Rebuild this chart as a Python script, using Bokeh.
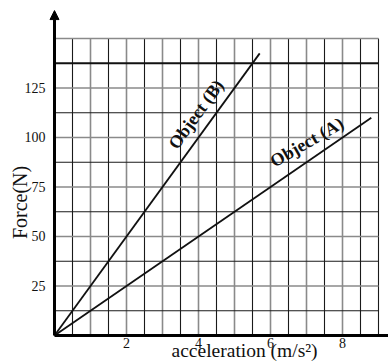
from bokeh.plotting import figure
from bokeh.models import Range1d, Arrow, NormalHead
from bokeh.core.properties import value
from bokeh.embed import file_html
from bokeh.resources import INLINE

# Force against acceleration for two objects (straight lines through the origin)
accel_a = [0, 8.8]
force_a = [0, 110]
accel_b = [0, 5.7]
force_b = [0, 142.5]

# axis ticks and their labels
x_ticks = [2, 4, 6, 8]
x_tick_labels = ["2", "4", "6", "8"]
y_ticks = [25, 50, 75, 100, 125]
y_tick_labels = ["25", "50", "75", "100", "125"]

# graph-paper rulings: heavier grey lines on whole units / multiples of 25 N,
# thin dark lines in between
grid_x_grey = [1, 2, 3, 4, 5, 6, 7, 8]
grid_x_dark = [0.5, 1.5, 2.5, 3.5, 4.5, 5.5, 6.5, 7.5, 8.5, 9]
grid_y_grey = [25, 50, 75, 100, 125, 150]
grid_y_dark = [12.5, 37.5, 62.5, 87.5, 112.5]
grid_y_heavy = [137.5]
grid_top = 150
grid_right = 9

SERIF = "Liberation Serif"
INK = "#111111"

# the plotting area fills the whole canvas; axes and their texts are drawn inside it
p = figure(
    width=388, height=364,
    x_range=Range1d(-1.5, 9.2778),
    y_range=Range1d(-14.646, 169.19),
    output_backend="svg", toolbar_location=None,
    min_border=0,
)
p.outline_line_color = None
p.axis.visible = False
p.xgrid.visible = False
p.ygrid.visible = False
p.background_fill_color = "white"
p.border_fill_color = "white"

# vertical rulings
p.segment(x0=grid_x_grey, y0=[0] * len(grid_x_grey), x1=grid_x_grey,
          y1=[grid_top] * len(grid_x_grey), line_color="#8a8a8a", line_width=1.6)
p.segment(x0=grid_x_dark, y0=[0] * len(grid_x_dark), x1=grid_x_dark,
          y1=[grid_top] * len(grid_x_dark), line_color="#1a1a1a", line_width=1.1)
# horizontal rulings
p.segment(x0=[0] * len(grid_y_grey), y0=grid_y_grey,
          x1=[grid_right] * len(grid_y_grey), y1=grid_y_grey,
          line_color="#8a8a8a", line_width=1.6)
p.segment(x0=[0] * len(grid_y_dark), y0=grid_y_dark,
          x1=[grid_right] * len(grid_y_dark), y1=grid_y_dark,
          line_color="#1a1a1a", line_width=1.1)
p.segment(x0=[0] * len(grid_y_heavy), y0=grid_y_heavy,
          x1=[grid_right] * len(grid_y_heavy), y1=grid_y_heavy,
          line_color=INK, line_width=2)

# the two graphs
p.line(accel_a, force_a, line_color=INK, line_width=1.8)
p.line(accel_b, force_b, line_color=INK, line_width=1.8)

# axes drawn from the origin, the vertical one ending in an arrow
p.line([0, 9.2778], [0, 0], line_color="black", line_width=3)
p.add_layout(Arrow(x_start=0, y_start=0, x_end=0, y_end=164.1,
                   line_color="black", line_width=3,
                   end=NormalHead(size=9, fill_color="black", line_color="black")))

# tick labels
p.text(x=x_ticks, y=[0] * len(x_ticks), text=x_tick_labels,
       text_align="center", text_baseline="middle", y_offset=7,
       text_font=value(SERIF), text_font_size="14px", text_color=INK)
p.text(x=[0] * len(y_ticks), y=y_ticks, text=y_tick_labels,
       text_align="right", text_baseline="middle", x_offset=-9,
       text_font=value(SERIF), text_font_size="14px", text_color=INK)

# line labels
p.text(x=[3.93], y=[111.7], text=["Object (B)"], angle=54, angle_units="deg",
       text_align="center", text_baseline="middle",
       text_font=value(SERIF), text_font_style="bold",
       text_font_size="18px", text_color=INK)
p.text(x=[7.01], y=[97.6], text=["Object (A)"], angle=30, angle_units="deg",
       text_align="center", text_baseline="middle",
       text_font=value(SERIF), text_font_style="bold",
       text_font_size="18px", text_color=INK)

# axis titles
p.text(x=[-0.965], y=[67.2], text=["Force(N)"], angle=90, angle_units="deg",
       text_align="center", text_baseline="middle",
       text_font=value(SERIF), text_font_size="20px", text_color=INK)
p.text(x=[5.28], y=[-7.78], text=["acceleration (m/s\u00b2)"],
       text_align="center", text_baseline="middle",
       text_font=value(SERIF), text_font_size="19.5px", text_color=INK)

open("out.html", "w").write(file_html(p, INLINE))
